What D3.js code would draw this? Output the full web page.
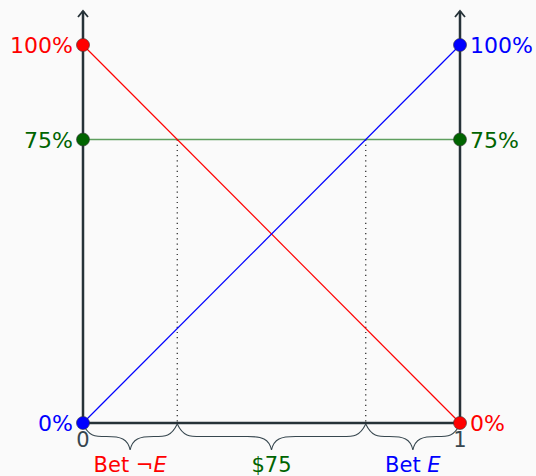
<!DOCTYPE html>
<html>
<head>
<meta charset="utf-8">
<script src="https://cdn.jsdelivr.net/npm/d3@7"></script>
<style>
  body { margin: 0; background: #fafafa; }
  svg { display: block; font-family: "DejaVu Sans", "Noto Sans", sans-serif; }
</style>
</head>
<body>
<svg width="536" height="476"></svg>
<script>
// data
const lines = [
  {name: "notE", color: "#ff0000", from: 1, to: 0},
  {name: "E", color: "#0000ff", from: 0, to: 1}
];
const priceLevel = 0.75;
const crossX = [0.25, 0.75];
const braces = [
  {from: 0, to: 0.25, label: "Bet ¬", italic: "E", color: "#ff0000"},
  {from: 0.25, to: 0.75, label: "$75", italic: "", color: "#006400"},
  {from: 0.75, to: 1, label: "Bet ", italic: "E", color: "#0000ff"}
];
const xTicks = [0, 1];

const svg = d3.select("svg");
const axisColor = "#263238";
const x = d3.scaleLinear().domain([0, 1]).range([83, 460]);
const y = d3.scaleLinear().domain([0, 1]).range([423, 45]);
const pct = d3.format(".0%");

// green price line
svg.append("line")
  .attr("x1", x(0)).attr("x2", x(1))
  .attr("y1", y(priceLevel)).attr("y2", y(priceLevel))
  .attr("stroke", "#5f9f5f").attr("stroke-width", 1.5);

// dotted drop lines
svg.selectAll(".drop").data(crossX).enter().append("line")
  .attr("x1", d => x(d)).attr("x2", d => x(d))
  .attr("y1", y(priceLevel)).attr("y2", y(0))
  .attr("stroke", "#222").attr("stroke-width", 1.2)
  .attr("stroke-dasharray", "1.2,4");

// red and blue lines
svg.selectAll(".bet").data(lines).enter().append("line")
  .attr("x1", x(0)).attr("x2", x(1))
  .attr("y1", d => y(d.from)).attr("y2", d => y(d.to))
  .attr("stroke", d => d.color).attr("stroke-width", 1.2);

// axes
function vAxis(xv) {
  svg.append("line")
    .attr("x1", x(xv)).attr("x2", x(xv))
    .attr("y1", y(0)).attr("y2", 11)
    .attr("stroke", axisColor).attr("stroke-width", 2.5);
  svg.append("path")
    .attr("d", `M${x(xv) - 5},${17} L${x(xv)},${11} L${x(xv) + 5},${17}`)
    .attr("fill", "none").attr("stroke", axisColor).attr("stroke-width", 1.8);
}
vAxis(0);
vAxis(1);
svg.append("line")
  .attr("x1", x(0)).attr("x2", x(1))
  .attr("y1", y(0)).attr("y2", y(0))
  .attr("stroke", axisColor).attr("stroke-width", 2.5);

// x tick labels
svg.selectAll(".xt").data(xTicks).enter().append("text")
  .attr("x", d => x(d)).attr("y", y(0) + 24)
  .attr("text-anchor", "middle")
  .attr("fill", "#37474f").attr("font-size", 21)
  .text(d => d);

// braces (curly brace under the axis)
function bracePath(x1, x2, y0, h) {
  const m = (x1 + x2) / 2, q = h / 2;
  const r = Math.min(24, (x2 - x1) / 4);
  return `M${x1},${y0 + 1} C${x1 + r * 0.25},${y0 + q} ${x1 + r * 0.5},${y0 + q} ${x1 + r},${y0 + q}` +
    ` L${m - r},${y0 + q} C${m - r * 0.4},${y0 + q} ${m - r * 0.1},${y0 + q + 2} ${m},${y0 + h}` +
    ` C${m + r * 0.1},${y0 + q + 2} ${m + r * 0.4},${y0 + q} ${m + r},${y0 + q}` +
    ` L${x2 - r},${y0 + q} C${x2 - r * 0.5},${y0 + q} ${x2 - r * 0.25},${y0 + q} ${x2},${y0 + 1}`;
}
svg.selectAll(".brace").data(braces).enter().append("path")
  .attr("d", d => bracePath(x(d.from), x(d.to), y(0), 27))
  .attr("fill", "none").attr("stroke", "#37474f").attr("stroke-width", 1.1);

const bl = svg.selectAll(".blabel").data(braces).enter().append("text")
  .attr("x", d => (x(d.from) + x(d.to)) / 2).attr("y", 472)
  .attr("text-anchor", "middle")
  .attr("fill", d => d.color).attr("font-size", 21);
bl.append("tspan").text(d => d.label);
bl.append("tspan").attr("font-style", "italic").text(d => d.italic);

// dots and percent labels
const dots = [
  {xv: 0, v: 1, color: "#ff0000", side: "left"},
  {xv: 0, v: priceLevel, color: "#006400", side: "left"},
  {xv: 0, v: 0, color: "#0000ff", side: "left"},
  {xv: 1, v: 1, color: "#0000ff", side: "right"},
  {xv: 1, v: priceLevel, color: "#006400", side: "right"},
  {xv: 1, v: 0, color: "#ff0000", side: "right"}
];
svg.selectAll(".dot").data(dots).enter().append("circle")
  .attr("cx", d => x(d.xv)).attr("cy", d => y(d.v))
  .attr("r", 6.5)
  .attr("fill", d => d.color)
  .attr("stroke", "#333").attr("stroke-width", 0.6);

svg.selectAll(".plabel").data(dots).enter().append("text")
  .attr("x", d => d.side === "left" ? x(d.xv) - 10 : x(d.xv) + 10)
  .attr("y", d => y(d.v) + 8)
  .attr("text-anchor", d => d.side === "left" ? "end" : "start")
  .attr("fill", d => d.color)
  .attr("font-size", 22)
  .text(d => pct(d.v));
</script>
</body>
</html>
